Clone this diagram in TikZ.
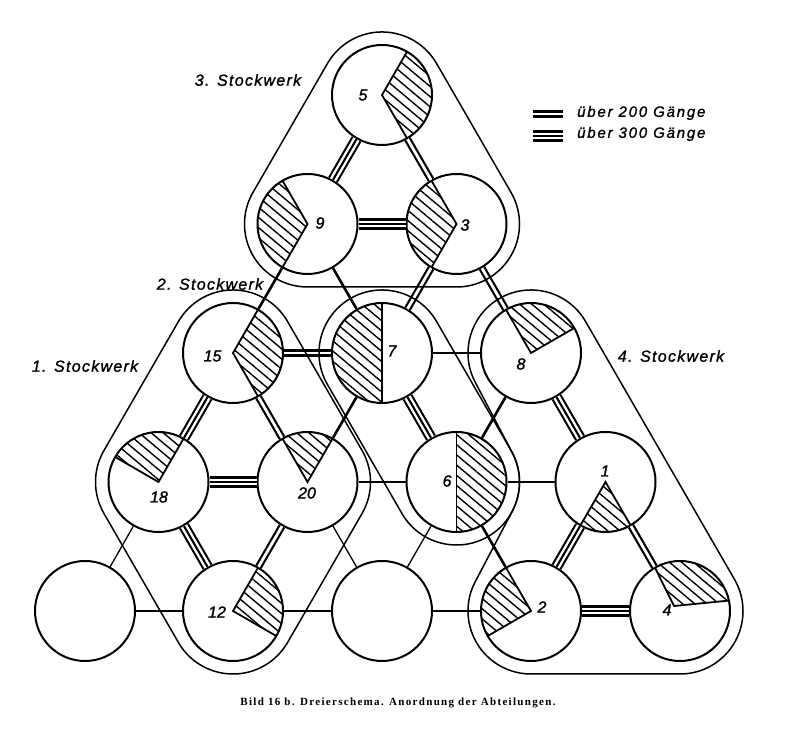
\documentclass[tikz,border=0pt]{standalone}
\usepackage{fontspec}
\setmainfont{Liberation Serif}
\newfontfamily\labfont{Liberation Sans}[LetterSpace=8,FakeBold=1.2]
\newfontfamily\legfont{Liberation Sans}[LetterSpace=12,FakeBold=1.2]
\newfontfamily\numfont{Liberation Sans}[FakeBold=1.5]
\newfontfamily\capfont{Liberation Serif}[LetterSpace=12]
\usetikzlibrary{calc,patterns.meta}
\newcommand\TripleLink[2]{%
  \draw[triA] (#1) -- (#2);
  \draw[triC] (#1) -- (#2);}
\newcommand\HatchWedge[3]{%
  \fill[hatch] (#1.center) -- ($(#1.center)+(#2:50)$) arc[start angle=#2,end angle=#3,radius=50] -- cycle;
  \draw[wedgeline] ($(#1.center)+(#2:50)$) -- (#1.center) -- ($(#1.center)+(#3:50)$);}
\begin{document}
\begin{tikzpicture}[x=1pt,y=1pt,
  dept/.style={circle,draw,line width=2pt,minimum size=100pt,inner sep=0pt},
  num/.style={font=\numfont\itshape\fontsize{16}{16}\selectfont,inner sep=0pt},
  floorlab/.style={font=\labfont\itshape\fontsize{16}{16}\selectfont,inner sep=0pt},
  leglab/.style={font=\legfont\itshape\fontsize{15}{15}\selectfont,inner sep=0pt,anchor=west},
  encl/.style={line width=1.5pt},
  thinlink/.style={line width=1.3pt},
  thicklink/.style={line width=2.6pt},
  dbl/.style={line width=2.2pt,double distance=2.8pt},
  triA/.style={line width=2.1pt,double distance=6.9pt},
  triC/.style={line width=2.1pt},
  hatch/.style={pattern={Lines[angle=-40,distance=7.8pt,line width=1.4pt]}},
  wedgeline/.style={line width=1.8pt,line join=miter},
]
\useasboundingbox (0,0) rectangle (795,754);

% departments
\node[dept] (c5) at (382,659) {};
\node[dept] (c9) at (307.5,530) {};
\node[dept] (c3) at (456.5,530) {};
\node[dept] (c15) at (233,401) {};
\node[dept] (c7) at (382,401) {};
\node[dept] (c8) at (531,401) {};
\node[dept] (c18) at (158.5,272) {};
\node[dept] (c20) at (307.5,272) {};
\node[dept] (c6) at (456.5,272) {};
\node[dept] (c1) at (605.5,272) {};
\node[dept] (cA) at (85,143) {};
\node[dept] (c12) at (233,143) {};
\node[dept] (cB) at (382,143) {};
\node[dept] (c2) at (531,143) {};
\node[dept] (c4) at (680,143) {};

% thin links
\draw[thinlink] (c18) -- (cA);
\draw[thinlink] (cA) -- (c12);
\draw[thinlink] (c12) -- (cB);
\draw[thinlink] (c20) -- (cB);
\draw[thinlink] (c6) -- (cB);
\draw[thinlink] (cB) -- (c2);
% thick single links
\draw[thicklink] (c9) -- (c15);
\draw[thicklink] (c9) -- (c7);
\draw[thicklink] (c7) -- (c8);
\draw[thicklink] (c7) -- (c20);
\draw[thicklink] (c8) -- (c6);
\draw[thicklink] (c20) -- (c6);
\draw[thicklink] (c6) -- (c1);
\draw[thicklink] (c6) -- (c2);
% double links
\draw[dbl] (c5) -- (c3);
\draw[dbl] (c3) -- (c7);
\draw[dbl] (c3) -- (c8);
\draw[dbl] (c15) -- (c7);
\draw[dbl] (c15) -- (c20);
\draw[dbl] (c20) -- (c12);
\draw[dbl] (c1) -- (c4);
% triple links
\TripleLink{c5}{c9}
\TripleLink{c9}{c3}
\TripleLink{c15}{c18}
\TripleLink{c7}{c6}
\TripleLink{c8}{c1}
\TripleLink{c18}{c20}
\TripleLink{c18}{c12}
\TripleLink{c1}{c2}
\TripleLink{c2}{c4}

% enclosures
\draw[encl] ($(c5.center)+(30:63)$) arc[start angle=30,end angle=150,radius=63]
  -- ($(c9.center)+(150:63)$) arc[start angle=150,end angle=270,radius=63]
  -- ($(c3.center)+(270:63)$) arc[start angle=270,end angle=390,radius=63] -- cycle;
\draw[encl] ($(c15.center)+(30:63)$) arc[start angle=30,end angle=150,radius=63]
  -- ($(c18.center)+(150:63)$) arc[start angle=150,end angle=210,radius=63]
  -- ($(c12.center)+(210:63)$) arc[start angle=210,end angle=330,radius=63]
  -- ($(c20.center)+(330:63)$) arc[start angle=330,end angle=390,radius=63] -- cycle;
\draw[encl] ($(c7.center)+(30:63)$) arc[start angle=30,end angle=210,radius=63]
  -- ($(c6.center)+(210:63)$) arc[start angle=210,end angle=390,radius=63] -- cycle;
\draw[encl] ($(c8.center)+(30:63)$) arc[start angle=30,end angle=207.7,radius=63]
  -- ($(c6.center)+(27.7:63)$) arc[start angle=27.7,end angle=-27.7,radius=63]
  -- ($(c2.center)+(152.3:63)$) arc[start angle=152.3,end angle=270,radius=63]
  -- ($(c4.center)+(270:63)$) arc[start angle=270,end angle=390,radius=63] -- cycle;

% hatched parts
\HatchWedge{c5}{-60}{60}
\HatchWedge{c9}{120}{240}
\HatchWedge{c3}{120}{240}
\HatchWedge{c15}{-60}{60}
\HatchWedge{c7}{90}{270}
\HatchWedge{c8}{30}{120}
\HatchWedge{c18}{60}{150}
\HatchWedge{c20}{60}{120}
\HatchWedge{c6}{-90}{90}
\HatchWedge{c1}{240}{300}
\HatchWedge{c12}{-30}{60}
\HatchWedge{c2}{120}{210}
\coordinate (v4) at (674,148);
\fill[hatch] (v4) -- ($(c4.center)+(12:50)$) arc[start angle=12,end angle=120,radius=50] -- cycle;
\draw[wedgeline] ($(c4.center)+(12:50)$) -- (v4) -- ($(c4.center)+(120:50)$);

% numbers
\node[num] (n5) at (363,659) {5};
\node[num] (n9) at (320,531) {9};
\node[num] (n3) at (465,529) {3};
\node[num] (n15) at (212.5,398) {15};
\node[num] (n7) at (392,403) {7};
\node[num] (n8) at (521,390) {8};
\node[num] (n18) at (159,257) {18};
\node[num] (n20) at (307,261) {20};
\node[num] (n6) at (447,273) {6};
\node[num] (n1) at (605,283) {1};
\node[num] (n12) at (217,142) {12};
\node[num] (n2) at (542,147) {2};
\node[num] (n4) at (667,144) {4};

% floor labels
\node[floorlab] (L3) at (248,674) {3. Stockwerk};
\node[floorlab] (L2) at (210,470) {2. Stockwerk};
\node[floorlab] (L1) at (85,388) {1. Stockwerk};
\node[floorlab] (L4) at (671,398) {4. Stockwerk};

% legend
\coordinate (g1a) at (533,640);
\coordinate (g1b) at (563,640);
\coordinate (g2a) at (533,618);
\coordinate (g2b) at (563,618);
\draw[dbl] (g1a) -- (g1b);
\TripleLink{g2a}{g2b}
\node[leglab] (t200) at (577,641) {über 200 Gänge};
\node[leglab] (t300) at (577,620) {über 300 Gänge};

% caption
\node[font=\capfont\bfseries\fontsize{11}{11}\selectfont,inner sep=0pt] (cap) at (398,51)
  {Bild 16 b. Dreierschema. Anordnung der Abteilungen.};
\end{tikzpicture}
\end{document}
